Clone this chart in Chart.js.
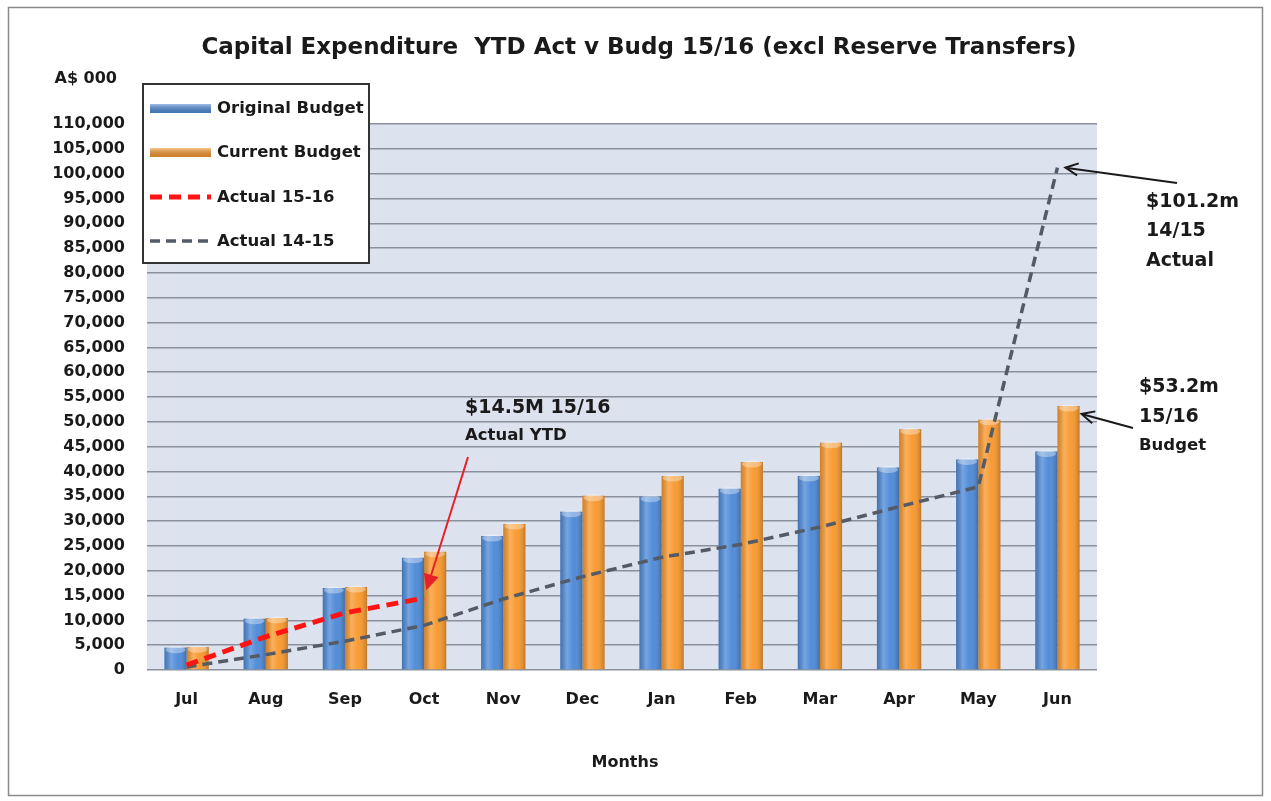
<!DOCTYPE html>
<html>
<head>
<meta charset="utf-8">
<script src="https://cdn.jsdelivr.net/npm/chart.js@4.4.1/dist/chart.umd.min.js"></script>
<style>
html,body{margin:0;padding:0;background:#fff;}
canvas{display:block;}
</style>
</head>
<body>
<canvas id="c" width="1271" height="801"></canvas>
<script>
const months = ['Jul','Aug','Sep','Oct','Nov','Dec','Jan','Feb','Mar','Apr','May','Jun'];
const originalBudget = [4500, 10300, 16500, 22600, 27000, 31900, 34900, 36500, 39100, 40800, 42400, 44000];
const currentBudget  = [4600, 10500, 16700, 23800, 29400, 35100, 39100, 41900, 45800, 48500, 50400, 53200];
const actual1516     = [1000, 6700, 11500, 14500, null, null, null, null, null, null, null, null];
const actual1415     = [600, 3100, 5800, 9000, 14300, 18800, 22700, 25300, 28800, 32900, 36900, 101200];
const yTicksMax = 110000;
const yTickStep = 5000;

const titleText = 'Capital Expenditure  YTD Act v Budg 15/16 (excl Reserve Transfers)';
const yUnitText = 'A$ 000';
const xTitleText = 'Months';
const FONT = '"DejaVu Sans", "Liberation Sans", sans-serif';

const bgPlugin = {
  id: 'bgPlugin',
  beforeDraw(chart) {
    const ctx = chart.ctx, a = chart.chartArea;
    ctx.save();
    ctx.fillStyle = '#ffffff';
    ctx.fillRect(0, 0, chart.width, chart.height);
    ctx.strokeStyle = '#8a8a8a';
    ctx.lineWidth = 1.5;
    ctx.strokeRect(8.5, 7.5, 1254, 788);
    ctx.fillStyle = '#dde3ee';
    ctx.fillRect(a.left, a.top, a.right - a.left, a.bottom - a.top);
    ctx.restore();
  },
  afterDatasetDraw(chart, args) {
    const meta = args.meta;
    if (meta.type !== 'bar') return;
    const ctx = chart.ctx;
    ctx.save();
    meta.data.forEach(el => {
      const w = el.width, l = el.x - w / 2, top = el.y, bot = el.base;
      const g = ctx.createLinearGradient(l, 0, l + w, 0);
      g.addColorStop(0, 'rgba(0,0,0,0.16)');
      g.addColorStop(0.3, 'rgba(255,255,255,0.22)');
      g.addColorStop(0.6, 'rgba(255,255,255,0.02)');
      g.addColorStop(1, 'rgba(0,0,0,0.22)');
      ctx.fillStyle = g;
      ctx.fillRect(l, top, w, bot - top);
      ctx.fillStyle = 'rgba(255,255,255,0.35)';
      ctx.beginPath();
      ctx.ellipse(el.x, top + 2, w / 2 - 1, 3.5, 0, 0, Math.PI * 2);
      ctx.fill();
    });
    ctx.restore();
  },
  afterDraw(chart) {
    const ctx = chart.ctx, a = chart.chartArea;
    const xs = chart.scales.x, ys = chart.scales.y;
    ctx.save();
    // Title
    ctx.fillStyle = '#1a1a1a';
    ctx.textBaseline = 'middle';
    ctx.textAlign = 'center';
    ctx.font = 'bold 23px ' + FONT;
    ctx.fillText(titleText, 639, 48);
    // Unit label
    ctx.font = 'bold 16px ' + FONT;
    ctx.textAlign = 'right';
    ctx.fillText(yUnitText, 117, 79);
    // X axis title
    ctx.textAlign = 'center';
    ctx.font = 'bold 16px ' + FONT;
    ctx.fillText(xTitleText, (a.left + a.right) / 2 + 3, 763);

    // Legend box
    const lx = 143, ly = 84, lw = 226, lh = 179;
    ctx.fillStyle = '#ffffff';
    ctx.fillRect(lx, ly, lw, lh);
    ctx.strokeStyle = '#333333';
    ctx.lineWidth = 2;
    ctx.strokeRect(lx, ly, lw, lh);
    const items = chart.data.datasets;
    const rowY = [108, 152, 197, 241];
    ctx.textAlign = 'left';
    ctx.font = 'bold 16.5px ' + FONT;
    items.forEach((ds, i) => {
      const y = rowY[i];
      if (ds.type === 'line') {
        ctx.strokeStyle = ds.borderColor;
        ctx.lineWidth = ds.borderWidth;
        ctx.setLineDash(ds.borderDash);
        ctx.beginPath();
        ctx.moveTo(150, y);
        ctx.lineTo(211, y);
        ctx.stroke();
        ctx.setLineDash([]);
      } else {
        ctx.fillStyle = ds.backgroundColor;
        ctx.fillRect(150, y - 4, 61, 9);
        const g = ctx.createLinearGradient(0, y - 4, 0, y + 5);
        g.addColorStop(0, 'rgba(255,255,255,0.45)');
        g.addColorStop(1, 'rgba(0,0,0,0.15)');
        ctx.fillStyle = g;
        ctx.fillRect(150, y - 4, 61, 9);
      }
      ctx.fillStyle = '#1a1a1a';
      ctx.fillText(ds.label, 217, y + 1);
    });

    // Annotation: 15/16 actual YTD
    const octIdx = 3;
    const ax = xs.getPixelForValue(octIdx), ay = ys.getPixelForValue(actual1516[octIdx]);
    ctx.fillStyle = '#1a1a1a';
    ctx.font = 'bold 19px ' + FONT;
    ctx.fillText('$14.5M 15/16', 465, 408);
    ctx.font = 'bold 16.5px ' + FONT;
    ctx.fillText('Actual YTD', 465, 436);
    drawArrow(ctx, 468, 457, ax + 3, ay - 10, '#e8202a', false);

    // Annotation: 14/15 actual
    const junIdx = 11;
    const jx = xs.getPixelForValue(junIdx), jy = ys.getPixelForValue(actual1415[junIdx]);
    ctx.fillStyle = '#1a1a1a';
    ctx.font = 'bold 19px ' + FONT;
    ctx.fillText('$101.2m', 1146, 202);
    ctx.fillText('14/15', 1146, 231);
    ctx.fillText('Actual', 1146, 261);
    drawArrow(ctx, 1177, 183, jx + 8, jy, '#1a1a1a', true);

    // Annotation: 15/16 budget
    const cMeta = chart.getDatasetMeta(1);
    const bar = cMeta.data[junIdx];
    ctx.fillStyle = '#1a1a1a';
    ctx.font = 'bold 19px ' + FONT;
    ctx.fillText('$53.2m', 1139, 387);
    ctx.fillText('15/16', 1139, 417);
    ctx.font = 'bold 16.5px ' + FONT;
    ctx.fillText('Budget', 1139, 446);
    drawArrow(ctx, 1133, 428, bar.x + bar.width / 2 + 2, bar.y + 8, '#1a1a1a', true);
    ctx.restore();
  }
};

function drawArrow(ctx, x1, y1, x2, y2, color, open) {
  const ang = Math.atan2(y2 - y1, x2 - x1);
  const hl = 14, hw = 0.45;
  ctx.save();
  ctx.strokeStyle = color;
  ctx.fillStyle = color;
  ctx.lineWidth = 2;
  ctx.beginPath();
  ctx.moveTo(x1, y1);
  ctx.lineTo(x2, y2);
  ctx.stroke();
  ctx.beginPath();
  ctx.moveTo(x2 - hl * Math.cos(ang - hw), y2 - hl * Math.sin(ang - hw));
  ctx.lineTo(x2, y2);
  ctx.lineTo(x2 - hl * Math.cos(ang + hw), y2 - hl * Math.sin(ang + hw));
  if (open) { ctx.stroke(); } else { ctx.closePath(); ctx.fill(); ctx.stroke(); }
  ctx.restore();
}

new Chart(document.getElementById('c'), {
  type: 'bar',
  data: {
    labels: months,
    datasets: [
      { label: 'Original Budget', data: originalBudget, backgroundColor: '#4f8bd8', borderWidth: 0, order: 2,
        barPercentage: 1, categoryPercentage: 0.56 },
      { label: 'Current Budget', data: currentBudget, backgroundColor: '#f8992f', borderWidth: 0, order: 2,
        barPercentage: 1, categoryPercentage: 0.56 },
      { type: 'line', label: 'Actual 15-16', data: actual1516, borderColor: '#ff1414', borderWidth: 5,
        borderDash: [12, 7], pointRadius: 0, fill: false, tension: 0, order: 0, spanGaps: false },
      { type: 'line', label: 'Actual 14-15', data: actual1415, borderColor: '#555b66', borderWidth: 3.5,
        borderDash: [10, 6], pointRadius: 0, fill: false, tension: 0, order: 1 }
    ]
  },
  options: {
    responsive: false,
    animation: false,
    layout: { padding: { top: 124, right: 174, left: 0, bottom: 0 } },
    plugins: { legend: { display: false }, title: { display: false }, tooltip: { enabled: false } },
    scales: {
      x: {
        grid: { display: false },
        border: { display: false },
        ticks: { font: { family: FONT, size: 16, weight: 'bold' }, color: '#1a1a1a', padding: 12 },
        afterFit(scale) { scale.height = 131; }
      },
      y: {
        min: 0, max: yTicksMax,
        grid: { color: '#8a919c', lineWidth: 1.5, drawTicks: false },
        border: { display: false },
        ticks: {
          stepSize: yTickStep,
          font: { family: FONT, size: 16, weight: 'bold' }, color: '#1a1a1a', padding: 22,
          callback: v => v.toLocaleString('en-US')
        },
        afterFit(scale) { scale.width = 147; }
      }
    }
  },
  plugins: [bgPlugin]
});
</script>
</body>
</html>
